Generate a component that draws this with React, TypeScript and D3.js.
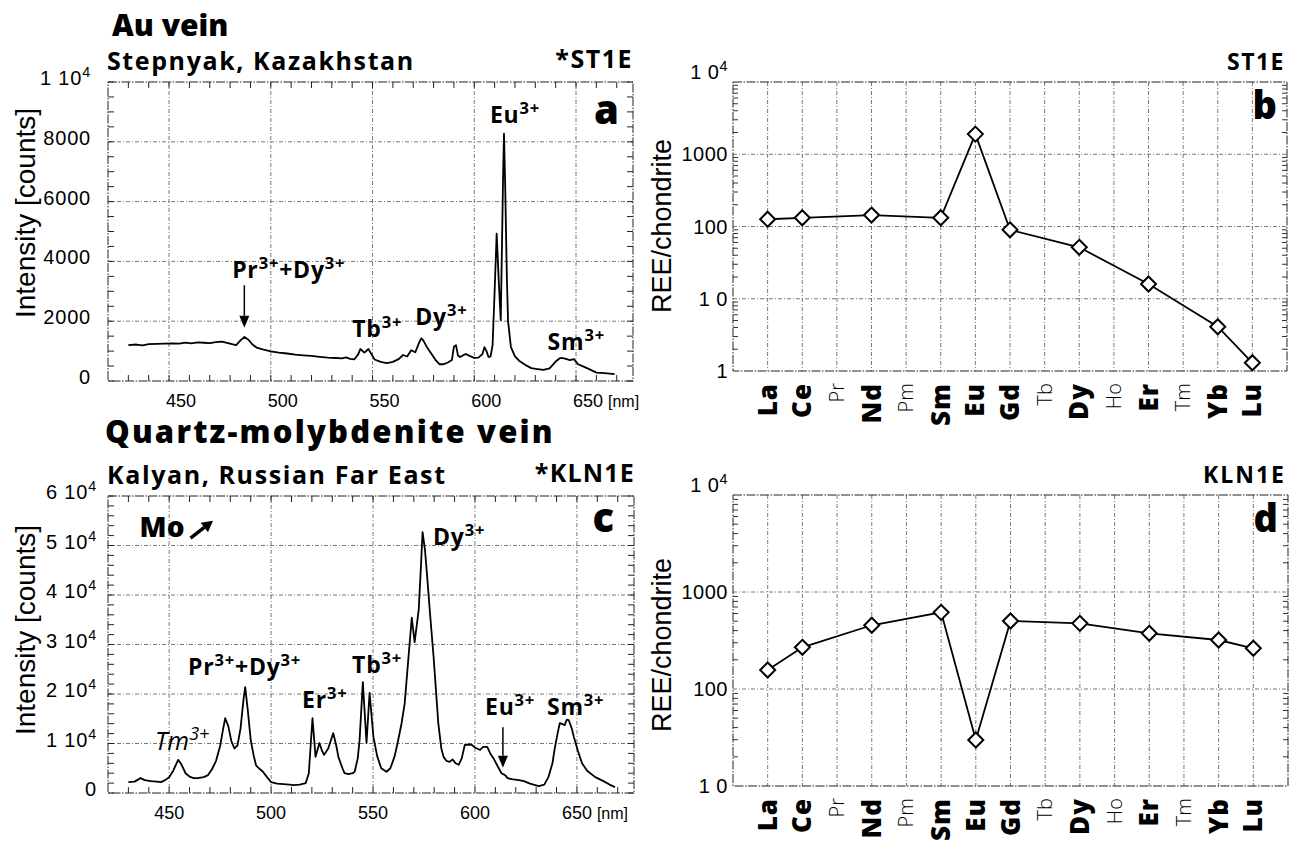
import React from "react";
import * as d3 from "d3";

// ---------------- DATA ----------------
// Panel a: Au vein, Stepnyak (ST1E) CL spectrum
const wlA = [430, 434, 437, 440, 444, 448, 452, 455, 458, 461, 464, 467, 470, 473, 476, 478, 481, 483, 485, 487, 489, 491, 493, 496, 500, 504, 508, 512, 516, 520, 524, 528, 532, 535, 537, 539, 541, 543, 544, 546, 548, 549, 551, 554, 557, 560, 563, 565, 567, 569, 571, 573, 574, 575, 577, 579, 581, 583, 585, 587, 589, 590, 591, 592, 593, 595, 596, 598, 600, 602, 604, 605, 606, 607, 608, 609, 610, 611, 612, 613, 613.6, 614.2, 614.6, 615.2, 616, 616.6, 618, 620, 622, 625, 628, 631, 634, 637, 640, 642, 643, 645, 647, 649, 651, 654, 657, 660, 664, 669];
const intA = [1200, 1220, 1190, 1230, 1240, 1250, 1260, 1250, 1280, 1260, 1290, 1280, 1270, 1300, 1320, 1280, 1230, 1200, 1350, 1470, 1380, 1220, 1120, 1060, 990, 950, 920, 880, 860, 840, 810, 780, 770, 760, 790, 740, 720, 900, 1070, 950, 1070, 950, 720, 640, 600, 640, 740, 870, 820, 1030, 960, 1300, 1430, 1350, 1100, 900, 700, 560, 560, 620, 700, 1150, 1200, 850, 800, 880, 900, 830, 770, 780, 900, 1130, 1000, 800, 820, 1200, 3000, 4930, 3400, 2030, 4500, 7000, 8270, 6500, 3500, 2000, 1130, 820, 680, 540, 430, 400, 370, 420, 650, 760, 770, 740, 700, 730, 560, 470, 380, 280, 260, 230];

// Panel c: Quartz-molybdenite vein, Kalyan (KLN1E) CL spectrum
const wlC = [430, 433, 436, 438, 441, 444, 446, 448, 450, 452, 454.4, 456, 458, 460, 462, 464, 467, 469, 471, 473, 475, 476.5, 477.5, 479, 480.5, 482, 483.5, 485, 486.5, 487.3, 488.5, 490, 491.5, 492.6, 494, 496, 498, 500, 503, 506, 509, 511, 514, 517, 518.5, 520.3, 521.8, 523.7, 525, 526, 528, 530.5, 532, 533, 535, 536, 538, 540, 541, 542.5, 543.4, 545, 546.8, 548.3, 550.2, 552, 554, 556.6, 558.5, 560.5, 562, 564, 565.5, 567.4, 569, 570.4, 572.4, 573.4, 574.3, 575.5, 576.3, 578, 579.7, 581, 582, 583.5, 584.6, 586, 587.6, 589, 590.5, 592, 593.5, 595, 597, 598.5, 600, 602.5, 604, 606, 607.5, 609.5, 611, 613, 614.8, 616, 618, 621.5, 624, 627, 631.3, 634, 636, 638, 639, 640.5, 641.6, 643, 644, 645, 646, 647.5, 648.5, 650.5, 652.5, 655, 659, 663, 666, 668.7];
const intC = [2200, 2300, 3000, 2600, 2400, 2300, 2200, 2600, 3200, 4500, 6700, 5800, 4000, 3300, 3000, 3000, 3200, 3600, 4800, 6500, 9500, 13000, 15100, 13500, 10500, 9000, 9600, 13000, 19000, 21400, 17000, 10700, 7500, 5600, 5000, 4300, 3200, 2200, 1900, 1800, 1700, 1600, 1700, 2000, 4000, 15100, 7300, 10100, 8500, 7700, 9000, 12100, 9500, 7300, 5000, 4000, 3800, 4000, 4300, 7000, 10700, 22400, 10100, 20200, 11300, 7500, 5000, 4300, 5000, 7300, 10000, 14100, 18000, 27500, 35400, 30500, 37000, 45000, 52700, 49000, 45000, 36000, 27500, 20000, 14100, 9000, 7300, 6500, 6300, 6800, 6000, 5700, 7000, 9700, 9800, 9700, 9200, 8700, 9300, 9300, 8000, 6700, 5500, 4000, 3600, 3000, 2800, 2600, 2400, 1900, 1400, 1700, 3200, 6000, 8700, 12000, 14100, 13900, 13700, 14800, 14700, 13000, 11300, 8500, 6000, 4500, 3200, 2400, 1700, 1200];

// Spectrum axes
const xMajor = [450, 500, 550, 600, 650];
const xMajorLabels = ["450", "500", "550", "600", "650"];
const yTicksA = [0, 2000, 4000, 6000, 8000, 10000];
const yTickLabelsA = ["0", "2000", "4000", "6000", "8000", "1 10^{4}"];
const yTicksC = [0, 10000, 20000, 30000, 40000, 50000, 60000];
const yTickLabelsC = ["0", "1 10^{4}", "2 10^{4}", "3 10^{4}", "4 10^{4}", "5 10^{4}", "6 10^{4}"];

// Peak annotations [nm, intensity, label]
const notesA: [number, number, string][] = [
  [481, 3450, "Pr^{3+}+Dy^{3+}"],
  [540, 1470, "Tb^{3+}"],
  [571, 1870, "Dy^{3+}"],
  [607.7, 8630, "Eu^{3+}"],
  [636, 1040, "Sm^{3+}"],
];
const arrowsA: [number, number, number][] = [[487, 3200, 1780]];
const notesC: [number, number, string][] = [
  [459.2, 23840, "Pr^{3+}+Dy^{3+}"],
  [515.2, 17170, "Er^{3+}"],
  [539.7, 24240, "Tb^{3+}"],
  [579.4, 50100, "Dy^{3+}"],
  [604.9, 15760, "Eu^{3+}"],
  [635.3, 15760, "Sm^{3+}"],
];
const italicNotesC: [number, number, string][] = [[443, 8690, "Tm^{3+}"]];
const arrowsC: [number, number, number][] = [[613.7, 13300, 5100]];

// REE patterns (chondrite-normalised)
const elements = ["La", "Ce", "Pr", "Nd", "Pm", "Sm", "Eu", "Gd", "Tb", "Dy", "Ho", "Er", "Tm", "Yb", "Lu"];
const reeST1E: (number | null)[] = [126, 132, null, 144, null, 132, 1900, 90, null, 51.5, null, 16, null, 4.1, 1.3];
const reeKLN1E: (number | null)[] = [157, 269, null, 454, null, 617, 29.8, 502, null, 475, null, 375, null, 320, 263];
const logTicksB = [1, 10, 100, 1000, 10000];
const logTickLabelsB = ["1", "1 0", "100", "1000", "1 0^{4}"];
const logTicksD = [10, 100, 1000, 10000];
const logTickLabelsD = ["1 0", "100", "1000", "1 0^{4}"];

// ---------------- STYLE ----------------
const HEAD = "'Open Sans', 'Noto Sans', 'DejaVu Sans', sans-serif";
const TICK = "'Liberation Sans', Arial, Helvetica, sans-serif";
const GRID = { stroke: "#555", strokeWidth: 0.8, strokeDasharray: "4 2 1 2" };
const FRAME = { stroke: "#222", strokeWidth: 1, strokeDasharray: "9 1.5 1.5 1.5", fill: "none" };

function Rich({ x, y, text, size, weight = 400, anchor = "start", family = TICK, italic = false, transform, spacing = 0 }: any) {
  const parts = text.split(/\^\{([^}]*)\}/);
  const shift = size * 0.4;
  const kids: any[] = [];
  let up = false;
  parts.forEach((p: string, i: number) => {
    if (i % 2 === 1) {
      kids.push(<tspan key={i} fontSize={size * 0.72} dy={-shift}>{p}</tspan>);
      up = true;
    } else if (p) {
      kids.push(<tspan key={i} dy={up ? shift : 0}>{p}</tspan>);
      up = false;
    }
  });
  return (
    <text x={x} y={y} fontSize={size} fontWeight={weight} fontFamily={family} textAnchor={anchor} letterSpacing={spacing}
      fontStyle={italic ? "italic" : "normal"} transform={transform} fill="#000">
      {kids}
    </text>
  );
}

function Arrow({ x1, y1, x2, y2, width = 1.5, head = 12, hw = 5 }: any) {
  const a = Math.atan2(y2 - y1, x2 - x1);
  const bx = x2 - head * Math.cos(a), by = y2 - head * Math.sin(a);
  const px = -Math.sin(a) * hw, py = Math.cos(a) * hw;
  return (
    <g>
      <line x1={x1} y1={y1} x2={bx} y2={by} stroke="#000" strokeWidth={width} />
      <path d={`M${x2},${y2}L${bx + px},${by + py}L${bx - px},${by - py}Z`} fill="#000" />
    </g>
  );
}

function SpectrumPanel({ L, R, T, B, yMax, yTicks, yTickLabels, yMinorStep, wl, inten, labelDx, labelRight, notes, italicNotes = [], arrows }: any) {
  const x = d3.scaleLinear().domain([420, 678]).range([L, R]);
  const y = d3.scaleLinear().domain([0, yMax]).range([B, T]);
  const line = d3.line<number>().x((_, i) => x(wl[i])).y((d) => y(d));
  const minorX = d3.range(430, 671, 10);
  const minorY = d3.range(0, yMax + 1, yMinorStep);
  return (
    <g>
      {xMajor.map((v) => <line key={"gx" + v} x1={x(v)} x2={x(v)} y1={T} y2={B} {...GRID} />)}
      {yTicks.filter((v: number) => v > 0 && v < yMax).map((v: number) => <line key={"gy" + v} x1={L} x2={R} y1={y(v)} y2={y(v)} {...GRID} />)}
      {minorX.map((v) => (
        <g key={"mx" + v}>
          <line x1={x(v)} x2={x(v)} y1={B} y2={B - 6} stroke="#222" strokeWidth={1} />
          <line x1={x(v)} x2={x(v)} y1={T} y2={T + 6} stroke="#222" strokeWidth={1} />
        </g>
      ))}
      {minorY.map((v: number) => (
        <g key={"my" + v}>
          <line x1={L} x2={L + 6} y1={y(v)} y2={y(v)} stroke="#222" strokeWidth={1} />
          <line x1={R} x2={R - 6} y1={y(v)} y2={y(v)} stroke="#222" strokeWidth={1} />
        </g>
      ))}
      <rect x={L} y={T} width={R - L} height={B - T} {...FRAME} />
      <path d={line(inten) || ""} fill="none" stroke="#000" strokeWidth={1.8} strokeLinejoin="round" />
      {yTicks.map((v: number, i: number) => (
        <Rich key={"yl" + v} x={labelRight} y={y(v) + 3} text={yTickLabels[i]} size={20} spacing={0.8} anchor="end" />
      ))}
      {xMajor.map((v, i) => (
        <text key={"xl" + v} x={x(v) + labelDx} y={B + 26} fontSize={18} fontFamily={TICK} textAnchor="middle">{xMajorLabels[i]}</text>
      ))}
      <text x={x(650) + labelDx + 20} y={B + 26} fontSize={16} fontFamily={TICK}>[nm]</text>
      {notes.map((n: any, i: number) => (
        <Rich key={"n" + i} x={x(n[0])} y={y(n[1])} text={n[2]} size={23} weight={700} spacing={0.8} family={HEAD} />
      ))}
      {italicNotes.map((n: any, i: number) => (
        <Rich key={"in" + i} x={x(n[0])} y={y(n[1])} text={n[2]} size={25} weight={400} family={HEAD} italic />
      ))}
      {arrows.map((a: any, i: number) => (
        <Arrow key={"a" + i} x1={x(a[0])} y1={y(a[1])} x2={x(a[0])} y2={y(a[2])} />
      ))}
    </g>
  );
}

function ReePanel({ L, R, T, B, domain, values, ticks, tickLabels, name, letter, nameSpacing, labelCenter }: any) {
  const x = d3.scaleLinear().domain([0, elements.length + 1]).range([L, R]);
  const y = d3.scaleLog().domain(domain).range([B, T]);
  const pts = values.map((v: number | null, i: number) => ({ v, i })).filter((p: any) => p.v != null);
  const line = d3.line<any>().x((p) => x(p.i + 1)).y((p) => y(p.v));
  const minors: number[] = [];
  for (let dec = domain[0]; dec < domain[1]; dec *= 10) for (let k = 2; k <= 9; k++) minors.push(dec * k);
  const r = 7.5;
  return (
    <g>
      {elements.map((e, i) => <line key={"gx" + e} x1={x(i + 1)} x2={x(i + 1)} y1={T} y2={B} {...GRID} />)}
      {ticks.filter((v: number) => v > domain[0] && v < domain[1]).map((v: number) => (
        <line key={"gy" + v} x1={L} x2={R} y1={y(v)} y2={y(v)} {...GRID} />
      ))}
      {minors.map((v) => (
        <g key={"m" + v}>
          <line x1={L} x2={L + 5} y1={y(v)} y2={y(v)} stroke="#333" strokeWidth={1} />
          <line x1={R} x2={R - 5} y1={y(v)} y2={y(v)} stroke="#333" strokeWidth={1} />
        </g>
      ))}
      <rect x={L} y={T} width={R - L} height={B - T} {...FRAME} />
      <path d={line(pts) || ""} fill="none" stroke="#000" strokeWidth={1.8} />
      {pts.map((p: any) => {
        const cx = x(p.i + 1), cy = y(p.v);
        return <path key={"p" + p.i} d={`M${cx},${cy - r}L${cx + r},${cy}L${cx},${cy + r}L${cx - r},${cy}Z`} fill="#fff" stroke="#000" strokeWidth={2} />;
      })}
      {ticks.map((v: number, i: number) => (
        <Rich key={"yl" + v} x={L - 5} y={v === domain[1] ? y(v) - 3 : y(v) + 7} text={tickLabels[i]} size={20} spacing={0.5} anchor="end" />
      ))}
      {elements.map((e, i) => {
        const bold = values[i] != null;
        return (
          <text key={"xl" + e} transform={`translate(${x(i + 1) + (bold ? 9 : 7)},${B + 12}) rotate(-90)`} textAnchor="end"
            fontSize={bold ? 26 : 20} fontWeight={bold ? 800 : 300} letterSpacing={bold ? 1 : 0} fontFamily={HEAD}>{e}</text>
        );
      })}
      <text x={R - 2} y={T - 12} fontSize={23} fontWeight={700} letterSpacing={nameSpacing} fontFamily={HEAD} textAnchor="end">{name}</text>
      <text x={R - 10} y={T + 37} fontSize={38} fontWeight={800} fontFamily={HEAD} textAnchor="end">{letter}</text>
      <text transform={`translate(671,${labelCenter}) rotate(-90)`} textAnchor="middle" fontSize={27} fontFamily={TICK}>REE/chondrite</text>
    </g>
  );
}

export default function App() {
  // helper scales for the Mo arrow in panel c (data units: nm, counts)
  const xc = d3.scaleLinear().domain([420, 678]).range([108, 634]);
  const yc = d3.scaleLinear().domain([0, 60000]).range([793, 496]);
  return (
    <svg width={1300} height={853} viewBox="0 0 1300 853" style={{ position: "absolute", left: 0, top: 0, background: "#fff" }}>
      <rect width={1300} height={853} fill="#fff" />
      {/* Titles */}
      <text x={112} y={36} fontSize={30} fontWeight={800} fontFamily={HEAD}>Au vein</text>
      <text x={107} y={70} fontSize={25} fontWeight={700} letterSpacing={1.6} fontFamily={HEAD}>Stepnyak, Kazakhstan</text>
      <text x={633} y={68} fontSize={25} fontWeight={700} letterSpacing={1.5} fontFamily={HEAD} textAnchor="end">*ST1E</text>
      <text x={105} y={443} fontSize={31} fontWeight={800} letterSpacing={2.2} fontFamily={HEAD}>Quartz-molybdenite vein</text>
      <text x={107} y={484} fontSize={25} fontWeight={700} letterSpacing={1.6} fontFamily={HEAD}>Kalyan, Russian Far East</text>
      <text x={635} y={482} fontSize={25} fontWeight={700} letterSpacing={1.2} fontFamily={HEAD} textAnchor="end">*KLN1E</text>

      <SpectrumPanel L={108} R={633} T={82} B={381} yMax={10000} yTicks={yTicksA} yTickLabels={yTickLabelsA}
        yMinorStep={500} wl={wlA} inten={intA} labelDx={12} labelRight={91} notes={notesA} arrows={arrowsA} />
      <text x={619} y={124} fontSize={40} fontWeight={800} fontFamily={HEAD} textAnchor="end">a</text>
      <text transform="translate(35,213) rotate(-90)" textAnchor="middle" fontSize={28} fontFamily={TICK}>Intensity [counts]</text>

      <SpectrumPanel L={108} R={634} T={496} B={793} yMax={60000} yTicks={yTicksC} yTickLabels={yTickLabelsC}
        yMinorStep={2000} wl={wlC} inten={intC} labelDx={0} labelRight={97} notes={notesC} italicNotes={italicNotesC} arrows={arrowsC} />
      <text x={614} y={532} fontSize={40} fontWeight={800} fontFamily={HEAD} textAnchor="end">c</text>
      <text transform="translate(35,630) rotate(-90)" textAnchor="middle" fontSize={28} fontFamily={TICK}>Intensity [counts]</text>
      <text x={xc(435.5)} y={yc(51700)} fontSize={28} fontWeight={800} fontFamily={HEAD}>Mo</text>
      <Arrow x1={xc(460.5)} y1={yc(51500)} x2={xc(471.5)} y2={yc(55000)} width={3.5} head={11} hw={6} />

      <ReePanel L={733} R={1287} T={82} B={371} domain={[1, 10000]} values={reeST1E} ticks={logTicksB}
        tickLabels={logTickLabelsB} name="ST1E" letter="b" nameSpacing={1.5} labelCenter={226} />
      <ReePanel L={733} R={1288} T={495} B={786} domain={[10, 10000]} values={reeKLN1E} ticks={logTicksD}
        tickLabels={logTickLabelsD} name="KLN1E" letter="d" nameSpacing={2} labelCenter={645} />
    </svg>
  );
}
